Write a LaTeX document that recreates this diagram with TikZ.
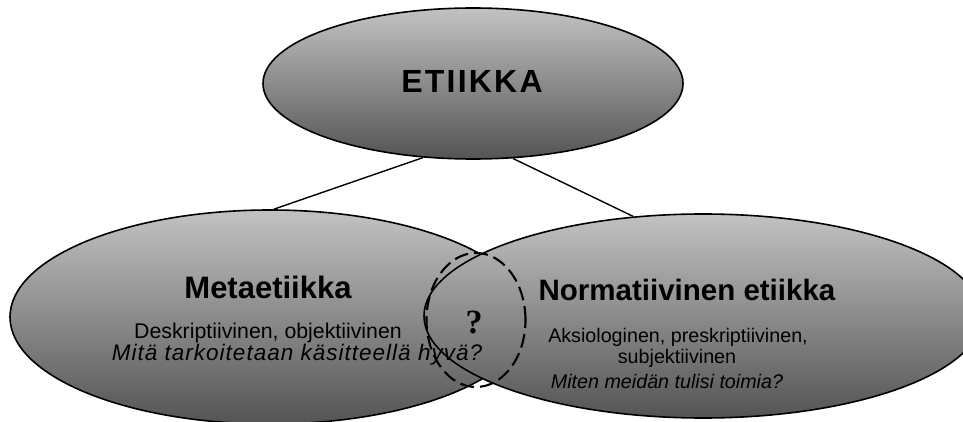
\documentclass[tikz,border=0pt]{standalone}
\usepackage{fontspec}
\setmainfont{Liberation Sans}
\newfontfamily\qfont{Liberation Serif}
\usetikzlibrary{shapes.geometric}
\definecolor{shadetop}{RGB}{194,194,194}
\definecolor{shademid}{RGB}{152,152,152}
\definecolor{shadebot}{RGB}{84,84,84}
\begin{document}
\begin{tikzpicture}[x=1pt,y=1pt,
  blob/.style={ellipse, draw=black, line width=1.6pt, inner sep=0pt,
    top color=shadetop, middle color=shademid, bottom color=shadebot},
  qzone/.style={ellipse, draw=black, line width=2.1pt, dash pattern=on 14pt off 6pt, inner sep=0pt},
  link/.style={draw=black, line width=1.4pt},
  lbl/.style={anchor=base, inner sep=0pt}]
\clip (0,0) rectangle (963,421);
\useasboundingbox (0,0) rectangle (963,421);

% ellipses
\node[blob, minimum width=420pt, minimum height=151pt] (top) at (473,337.5) {};
\node[blob, minimum width=520pt, minimum height=214pt] (meta) at (270,104) {};
\node[blob, minimum width=558pt, minimum height=204pt] (norm) at (703,105) {};
\node[qzone, minimum width=99pt, minimum height=134pt] (q) at (476,101) {};

% connectors
\draw[link] (top.236) -- (meta.88);
\draw[link] (top.298) -- (norm.125);

% labels
\node[lbl, font=\fontsize{32}{36}\selectfont\bfseries\addfontfeatures{LetterSpace=7}] (ttop) at (472,328) {ETIIKKA};

\node[lbl, font=\fontsize{31}{35}\selectfont\bfseries] (tmeta) at (268,123) {Metaetiikka};
\node[lbl, font=\fontsize{21.3}{24}\selectfont] (tmeta1) at (268,83) {Deskriptiivinen, objektiivinen};
\node[lbl, font=\fontsize{22.5}{26}\selectfont\itshape\addfontfeatures{LetterSpace=4.5}] (tmeta2) at (297,61) {Mitä tarkoitetaan käsitteellä hyvä?};

\node[lbl, font=\fontsize{29.5}{33}\selectfont\bfseries] (tnorm) at (687,121) {Normatiivinen etiikka};
\node[lbl, font=\fontsize{19.7}{22}\selectfont] (tnorm1) at (678,79) {Aksiologinen, preskriptiivinen,};
\node[lbl, font=\fontsize{19.7}{22}\selectfont] (tnorm2) at (677,58) {subjektiivinen};
\node[lbl, font=\fontsize{19.7}{22}\selectfont\itshape] (tnorm3) at (667,33) {Miten meidän tulisi toimia?};

\node[lbl, font=\fontsize{34}{38}\selectfont\qfont\bfseries] (tq) at (474,88) {?};
\end{tikzpicture}
\end{document}
